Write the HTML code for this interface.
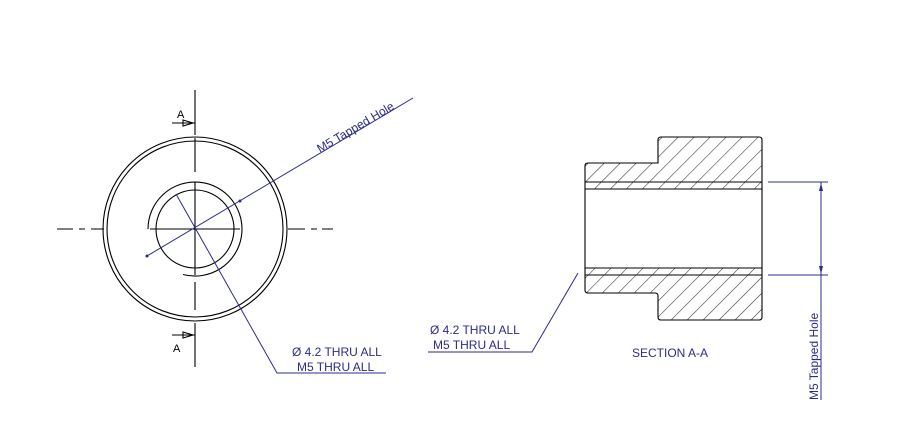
<!DOCTYPE html>
<html><head><meta charset="utf-8"><style>
html,body{margin:0;padding:0;background:#fff;}
svg{display:block;}
text{font-family:"Liberation Sans",sans-serif;fill:#2b2b8c;font-size:12px;}
</style></head><body>
<svg width="923" height="448" viewBox="0 0 923 448" xmlns="http://www.w3.org/2000/svg">
<defs>
<pattern id="h" patternUnits="userSpaceOnUse" width="11.3" height="16" patternTransform="rotate(45)">
<line x1="0" y1="0" x2="0" y2="16" stroke="#000" stroke-width="0.9"/>
</pattern>
<clipPath id="top"><path d="M585,189 V166 Q585,163 588,163 H658 V140 Q658,137 661,137 H759 Q762,137 762,140 V189 Z"/></clipPath>
<clipPath id="bot"><path d="M585,268 V290 Q585,293 588,293 H658 V317 Q658,320 661,320 H759 Q762,320 762,317 V268 Z"/></clipPath>
</defs>
<g fill="none" stroke="#000" stroke-width="1.1">
<circle cx="195" cy="229" r="92"/>
<circle cx="195" cy="229" r="88"/>
<circle cx="195" cy="229" r="39"/>
<path d="M148,229 A47,47 0 1 1 183,274.5"/>
<path d="M195,90 V135 M195,138 V172 M195,182 V275 M195,282 V310 M195,323 V367"/>
<path d="M57,229 H73 M79,229 H85 M91,229 H104 M150,229 H240 M288,229 H305 M311,229 H317 M322,229 H333"/>
<line x1="172" y1="123" x2="195" y2="123"/>
<path d="M183,120 L193,123 L183,126 Z"/>
<line x1="172" y1="335" x2="195" y2="335"/>
<path d="M183,332 L193,335 L183,338 Z"/>
<rect x="585" y="137" width="177" height="183" fill="url(#h)" stroke="none" clip-path="url(#top)"/>
<rect x="585" y="137" width="177" height="183" fill="url(#h)" stroke="none" clip-path="url(#bot)"/>
<path d="M585,189 V166 Q585,163 588,163 H658 V140 Q658,137 661,137 H759 Q762,137 762,140 V317 Q762,320 759,320 H661 Q658,320 658,317 V296 Q658,293 655,293 H588 Q585,293 585,290 Z"/>
<line x1="585" y1="182" x2="762" y2="182"/>
<line x1="585" y1="189" x2="762" y2="189"/>
<line x1="585" y1="268" x2="762" y2="268"/>
<line x1="585" y1="275" x2="762" y2="275"/>
</g>
<g fill="none" stroke="#2b2b8c" stroke-width="1">
<line x1="147" y1="256" x2="413" y2="98"/>
<polyline points="176,194 277,373 386,373"/>
<line x1="768" y1="182" x2="828" y2="182"/>
<line x1="768" y1="275" x2="828" y2="275"/>
<line x1="821" y1="182" x2="821" y2="400"/>
<polyline points="578,273 532,352 428,352"/>
</g>
<g fill="#2b2b8c">
<path d="M821,183 L819,191 L823,191 Z"/>
<path d="M821,274 L819,266 L823,266 Z"/>
<circle cx="147" cy="256" r="1.5"/><circle cx="240" cy="201" r="1.5"/>
</g>
<text x="177" y="118" style="fill:#000;font-size:11px">A</text>
<text x="173" y="352" style="fill:#000;font-size:11px">A</text>
<text transform="translate(320,153) rotate(-30.7)">M5 Tapped Hole</text>
<text x="292" y="356">Ø 4.2 THRU ALL</text>
<text x="297" y="371">M5  THRU ALL</text>
<text x="430" y="334">Ø 4.2 THRU ALL</text>
<text x="433" y="349">M5  THRU ALL</text>
<text x="632" y="357">SECTION A-A</text>
<text transform="translate(818,400) rotate(-90)">M5 Tapped Hole</text>
</svg>
</body></html>
